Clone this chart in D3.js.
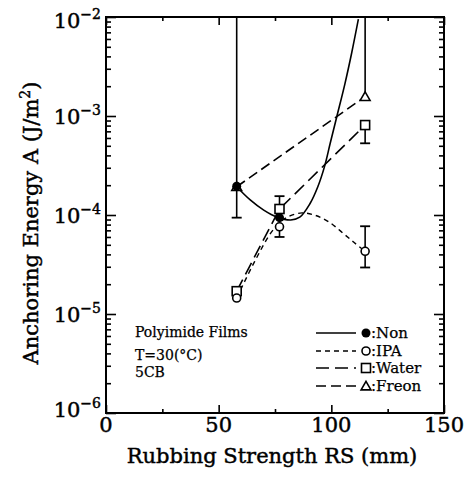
<!DOCTYPE html>
<html>
<head>
<meta charset="utf-8">
<script src="https://cdn.jsdelivr.net/npm/d3@7"></script>
<style>
  html, body { margin: 0; padding: 0; background: #fff; }
  svg { display: block; font-family: "DejaVu Serif", serif; }
  text.heavy { stroke: #000; stroke-width: 0.45px; }
  text.light { stroke: #000; stroke-width: 0.25px; }
</style>
</head>
<body>
<svg id="chart" width="470" height="478"></svg>
<script>
// Axis ticks
const xMajorTicks = [0, 50, 100, 150];
const xMinorTicks = [25, 75, 125];
const yDecades = [-6, -5, -4, -3, -2];

// Measured anchoring energy A (J/m^2) against rubbing strength RS (mm)
const nonPoints   = [[58, 1.95e-4], [77, 9.4e-5]];
const ipaPoints   = [[58, 1.45e-5], [77, 7.6e-5], [115, 4.3e-5]];
const waterPoints = [[58, 1.7e-5], [77, 1.15e-4], [115, 8.1e-4]];
const freonPoints = [[58, 1.93e-4], [115, 1.57e-3]];

// Guide curves drawn through the data
const nonCurve = [[58, 1.93e-4], [64, 1.42e-4], [70, 1.12e-4], [76, 9.5e-5], [82, 8.9e-5],
                  [86, 9.5e-5], [90.5, 1.3e-4], [94, 1.93e-4], [97, 3.1e-4], [99.5, 5.3e-4],
                  [102.5, 1.0e-3], [106, 2.1e-3], [109, 4.3e-3], [112, 9.5e-3]];
const ipaCurve = [[58, 1.45e-5], [66, 3.4e-5], [74, 7.0e-5], [80, 9.4e-5], [87, 1.05e-4],
                  [93, 9.9e-5], [99, 8.5e-5], [105, 6.6e-5], [110, 5.3e-5], [115, 4.3e-5]];
const waterCurve = waterPoints;
const freonCurve = freonPoints;

// Error bars: [RS, value, lower end, upper end] (null = no bar on that side)
const ipaErrors   = [[77, 7.6e-5, 6.0e-5, null], [115, 4.3e-5, 2.95e-5, 7.7e-5]];
const waterErrors = [[77, 1.15e-4, null, 1.55e-4], [115, 8.1e-4, 5.3e-4, null]];
const freonErrors = [[58, 1.93e-4, 9.4e-5, 2e-2], [115, 1.57e-3, null, 2e-2]];

const legendNames = [":Non", ":IPA", ":Water", ":Freon"];
const noteLines = ["Polyimide Films", "T=30(\u00B0C)", "5CB"];

const svg = d3.select("#chart");
const L = 106, R = 444, T = 17, B = 413;
const x = d3.scaleLinear().domain([0, 150]).range([L, R]);
const y = d3.scaleLog().domain([1e-6, 1e-2]).range([B, T]);

const dashes = { Non: null, IPA: "5,4", Water: "13,6", Freon: "10,5" };

// ---- axes (ticks point inward) ----
const yMinor = [];
yDecades.slice(0, -1).forEach(d => { for (let k = 2; k <= 9; k++) yMinor.push(k * Math.pow(10, d)); });
const yMajor = yDecades.map(d => Math.pow(10, d));

function styleAxis(g) {
  g.select(".domain").remove();
  g.selectAll(".tick line").attr("stroke", "#000").attr("stroke-width", 1.6);
  g.selectAll(".tick text").remove();
}
svg.append("g").attr("transform", `translate(0,${B})`)
  .call(d3.axisBottom(x).tickValues(xMajorTicks).tickSize(-8).tickFormat("")).call(styleAxis);
svg.append("g").attr("transform", `translate(0,${B})`)
  .call(d3.axisBottom(x).tickValues(xMinorTicks).tickSize(-4).tickFormat("")).call(styleAxis);
svg.append("g").attr("transform", `translate(0,${T})`)
  .call(d3.axisTop(x).tickValues(xMajorTicks).tickSize(-8).tickFormat("")).call(styleAxis);
svg.append("g").attr("transform", `translate(0,${T})`)
  .call(d3.axisTop(x).tickValues(xMinorTicks).tickSize(-4).tickFormat("")).call(styleAxis);
svg.append("g").attr("transform", `translate(${L},0)`)
  .call(d3.axisLeft(y).tickValues(yMajor).tickSize(-10).tickFormat("")).call(styleAxis);
svg.append("g").attr("transform", `translate(${L},0)`)
  .call(d3.axisLeft(y).tickValues(yMinor).tickSize(-5).tickFormat("")).call(styleAxis);
svg.append("g").attr("transform", `translate(${R},0)`)
  .call(d3.axisRight(y).tickValues(yMajor).tickSize(-10).tickFormat("")).call(styleAxis);
svg.append("g").attr("transform", `translate(${R},0)`)
  .call(d3.axisRight(y).tickValues(yMinor).tickSize(-5).tickFormat("")).call(styleAxis);

// frame
svg.append("rect").attr("x", L).attr("y", T).attr("width", R - L).attr("height", B - T)
  .attr("fill", "none").attr("stroke", "#000").attr("stroke-width", 2);

// x tick labels
svg.append("g").selectAll("text").data(xMajorTicks).join("text")
  .attr("class", "heavy")
  .attr("x", d => x(d)).attr("y", 432).attr("text-anchor", "middle")
  .attr("font-size", 21).text(d => d);

// y tick labels: 10 with superscript exponent
const yLabelShift = { "-2": 11, "-6": 4 };
yDecades.forEach(d => {
  const t = svg.append("text").attr("class", "heavy").attr("x", 101)
    .attr("y", y(Math.pow(10, d)) + (yLabelShift[d] !== undefined ? yLabelShift[d] : 8))
    .attr("text-anchor", "end").attr("font-size", 21);
  t.append("tspan").text("10");
  t.append("tspan").attr("dy", -9).attr("font-size", 14).text("\u2212" + Math.abs(d));
});

// axis titles
svg.append("text").attr("class", "heavy").attr("x", 272).attr("y", 463).attr("text-anchor", "middle")
  .attr("font-size", 21).text("Rubbing Strength RS (mm)");
const yt = svg.append("text").attr("class", "heavy").attr("transform", "translate(38,223) rotate(-90)")
  .attr("text-anchor", "middle").attr("font-size", 21);
yt.append("tspan").text("Anchoring Energy A (J/m");
yt.append("tspan").attr("dy", -8).attr("font-size", 14).text("2");
yt.append("tspan").attr("dy", 8).text(")");

// ---- data ----
svg.append("clipPath").attr("id", "plotclip").append("rect")
  .attr("x", L).attr("y", T).attr("width", R - L).attr("height", B - T);
const plot = svg.append("g").attr("clip-path", "url(#plotclip)");

const smooth = d3.line().x(d => x(d[0])).y(d => y(d[1])).curve(d3.curveCatmullRom.alpha(0.5));
const straight = d3.line().x(d => x(d[0])).y(d => y(d[1]));

plot.append("path").attr("d", smooth(nonCurve)).attr("fill", "none")
  .attr("stroke", "#000").attr("stroke-width", 1.6);
plot.append("path").attr("d", smooth(ipaCurve)).attr("fill", "none")
  .attr("stroke", "#000").attr("stroke-width", 1.4).attr("stroke-dasharray", dashes.IPA);
plot.append("path").attr("d", straight(waterCurve)).attr("fill", "none")
  .attr("stroke", "#000").attr("stroke-width", 1.6).attr("stroke-dasharray", dashes.Water);
plot.append("path").attr("d", straight(freonCurve)).attr("fill", "none")
  .attr("stroke", "#000").attr("stroke-width", 1.6).attr("stroke-dasharray", dashes.Freon);

// error bars
const capW = 5;
[ipaErrors, waterErrors, freonErrors].forEach(set => {
  set.forEach(([rs, v, lo, hi]) => {
    [lo, hi].forEach(end => {
      if (end === null) return;
      plot.append("line").attr("x1", x(rs)).attr("x2", x(rs))
        .attr("y1", y(v)).attr("y2", y(end)).attr("stroke", "#000").attr("stroke-width", 1.6);
      plot.append("line").attr("x1", x(rs) - capW).attr("x2", x(rs) + capW)
        .attr("y1", y(end)).attr("y2", y(end)).attr("stroke", "#000").attr("stroke-width", 1.8);
    });
  });
});

// markers
const sq = 9, tri = d3.symbol().type(d3.symbolTriangle).size(42);
function drawMarker(g, kind, px, py) {
  if (kind === "Non") {
    g.append("circle").attr("cx", px).attr("cy", py).attr("r", 4.5).attr("fill", "#000");
  } else if (kind === "IPA") {
    g.append("circle").attr("cx", px).attr("cy", py).attr("r", 4).attr("fill", "#fff")
      .attr("stroke", "#000").attr("stroke-width", 1.6);
  } else if (kind === "Water") {
    g.append("rect").attr("x", px - sq / 2).attr("y", py - sq / 2).attr("width", sq).attr("height", sq)
      .attr("fill", "#fff").attr("stroke", "#000").attr("stroke-width", 1.6);
  } else {
    g.append("path").attr("d", tri()).attr("transform", `translate(${px},${py + 1})`)
      .attr("fill", "#fff").attr("stroke", "#000").attr("stroke-width", 1.6);
  }
}
waterPoints.forEach(d => drawMarker(plot, "Water", x(d[0]), y(d[1])));
ipaPoints.forEach(d => drawMarker(plot, "IPA", x(d[0]), y(d[1])));
freonPoints.forEach(d => drawMarker(plot, "Freon", x(d[0]), y(d[1])));
nonPoints.forEach(d => drawMarker(plot, "Non", x(d[0]), y(d[1])));

// ---- legend ----
const legendY = [333, 351, 368, 386];
["Non", "IPA", "Water", "Freon"].forEach((k, i) => {
  const ly = legendY[i];
  const ln = svg.append("line").attr("x1", 316).attr("x2", 356).attr("y1", ly).attr("y2", ly)
    .attr("stroke", "#000").attr("stroke-width", 1.5);
  if (dashes[k]) ln.attr("stroke-dasharray", dashes[k]);
  drawMarker(svg, k, 366, ly);
  svg.append("text").attr("class", "light").attr("x", 371).attr("y", ly + 5)
    .attr("font-size", 15).text(legendNames[i]);
});

// ---- sample notes ----
const noteY = [337, 360, 377];
noteLines.forEach((t, i) => {
  svg.append("text").attr("class", "light").attr("x", 135).attr("y", noteY[i])
    .attr("font-size", 14).text(t);
});
</script>
</body>
</html>
